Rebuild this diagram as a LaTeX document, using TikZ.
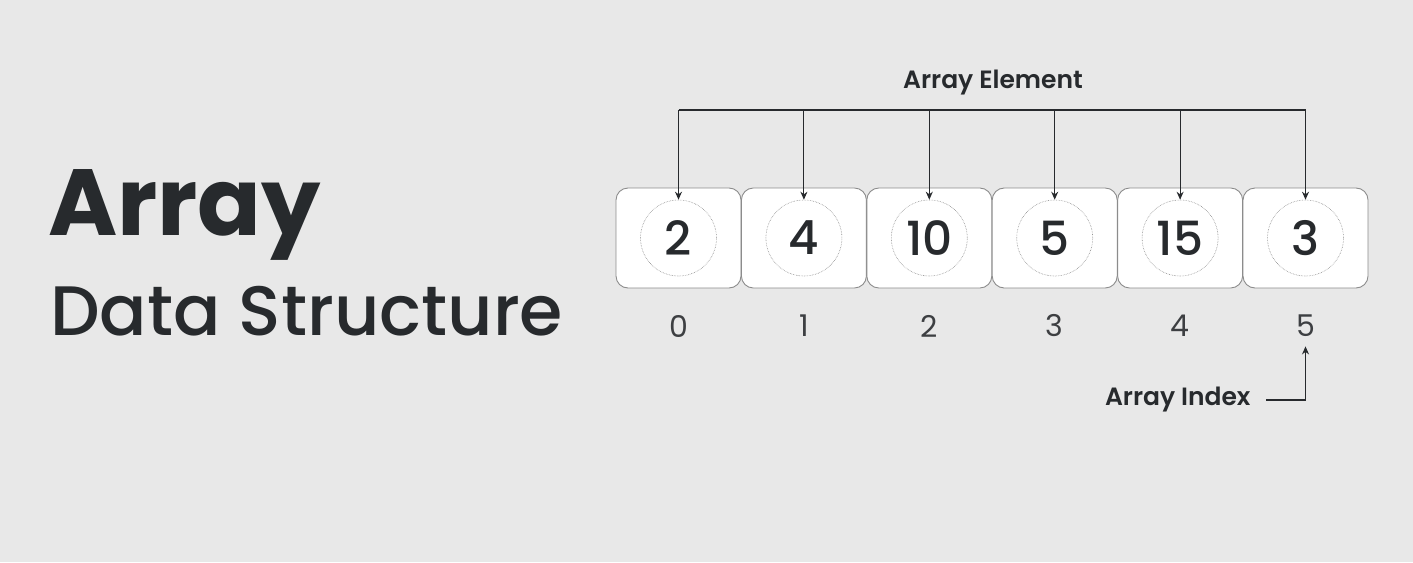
\documentclass[tikz,border=0pt]{standalone}
\usepackage{fontspec}
\setmainfont{Poppins}
\newfontfamily\medfont{Poppins Medium}
\newfontfamily\semifont{Poppins SemiBold}
\usetikzlibrary{positioning,arrows.meta}
\definecolor{bg}{HTML}{E8E8E8}
\definecolor{ink}{HTML}{272A2D}
\definecolor{frame}{HTML}{8C8C8C}

\begin{document}
\begin{tikzpicture}[x=1pt,y=-1pt,
    cell/.style={draw=frame,fill=white,rounded corners=12pt,minimum width=125pt,minimum height=100pt,line width=0.9pt,inner sep=0pt},
    ring/.style={draw=frame,densely dotted,circle,minimum size=76pt,line width=0.6pt,inner sep=0pt,text=ink,font=\medfont\fontsize{47}{47}\selectfont},
    idx/.style={text=ink!90,font=\fontsize{30}{30}\selectfont},
    lbl/.style={text=ink,font=\semifont\fontsize{25}{25}\selectfont},
    pointer/.style={-{Stealth[length=8pt,width=7pt]},line width=1.1pt,draw=ink}]
    \fill[bg] (0,0) rectangle (1413,562);
    % title
    \node[anchor=base west,inner sep=0pt,text=ink,font=\fontsize{94}{94}\selectfont\bfseries] (title) at (48,235) {Array};
    \node[anchor=base west,inner sep=0pt,text=ink,font=\medfont\fontsize{70}{70}\selectfont] (sub) at (50,335) {Data Structure};
    % cells
    \foreach \v [count=\i from 0] in {2,4,10,5,15,3}{
      \node[cell] (c\i) at ({678.5+125.4*\i},238) {};
      \node[ring] (e\i) at (c\i) {\v};
      \node[idx] (n\i) at ({678.5+125.4*\i},326) {\i};
    }
    % array element
    \node[lbl] (elem) at (993,83) {Array Element};
    \coordinate (top) at (993,110);
    \draw[line width=1.1pt,ink] (e0 |- top) -- (e5 |- top);
    \foreach \i in {0,...,5}
      \draw[pointer] (e\i |- top) -- (e\i.north);
    % array index
    \node[lbl,anchor=east] (aidx) at (1254,400) {Array Index};
    \coordinate (turn) at (e5 |- aidx);
    \draw[pointer] ([xshift=12pt]aidx.east) -- (turn) -- ([yshift=-6pt]n5.south);
\end{tikzpicture}
\end{document}
